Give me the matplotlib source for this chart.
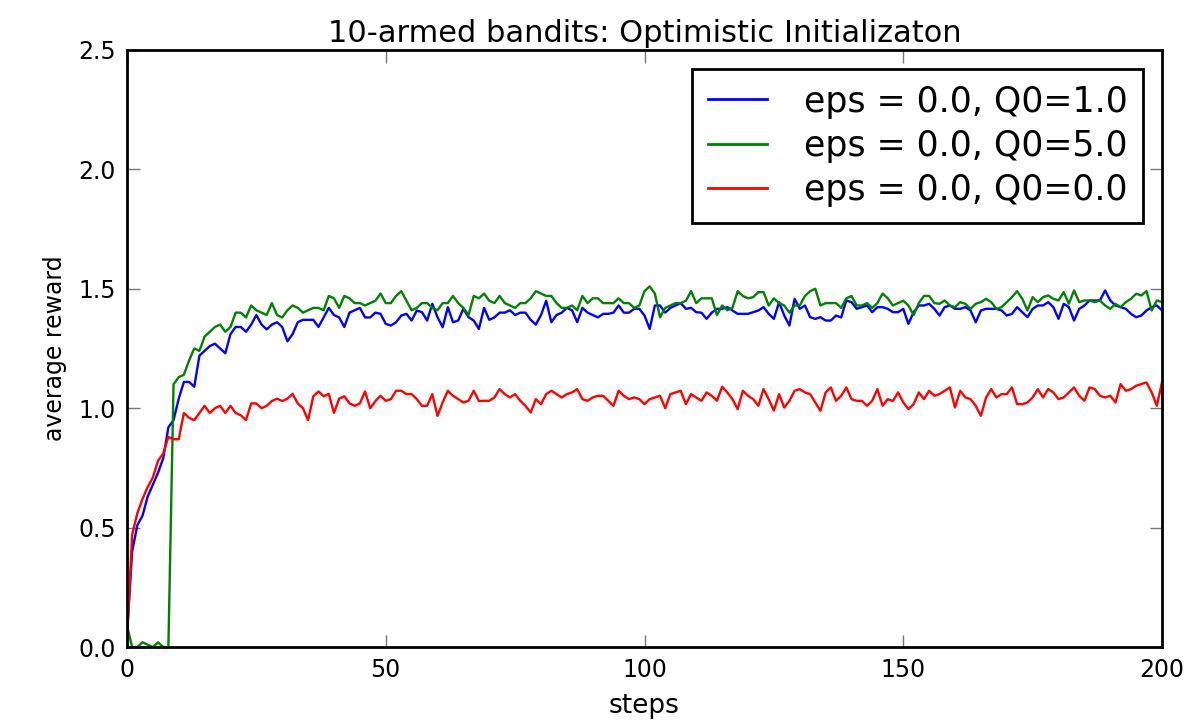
import matplotlib
matplotlib.use("Agg")
import matplotlib.pyplot as plt
import numpy as np

# average reward per step (steps 0..200)
steps = np.arange(201)

blue_q1 = [
    0.05, 0.40, 0.51, 0.55, 0.63, 0.68, 0.73, 0.79, 0.92, 0.95,
    1.04, 1.11, 1.11, 1.09, 1.22, 1.24, 1.26, 1.27, 1.25, 1.23,
    1.31, 1.34, 1.34, 1.32, 1.35, 1.39, 1.35, 1.33, 1.35, 1.36,
    1.34, 1.28, 1.31, 1.36, 1.37, 1.37, 1.37, 1.34, 1.38, 1.42,
    1.39, 1.38, 1.34, 1.40, 1.41, 1.42, 1.38, 1.38, 1.40, 1.395,
    1.353, 1.346, 1.36, 1.388, 1.395, 1.367, 1.409, 1.402, 1.367, 1.437,
    1.381, 1.339, 1.423, 1.36, 1.367, 1.416, 1.381, 1.367, 1.332, 1.42,
    1.37, 1.38, 1.40, 1.40, 1.41, 1.39, 1.40, 1.40, 1.37, 1.35,
    1.39, 1.45, 1.36, 1.39, 1.40, 1.42, 1.41, 1.36, 1.42, 1.40,
    1.39, 1.38, 1.395, 1.395, 1.40, 1.43, 1.40, 1.40, 1.416, 1.416,
    1.388, 1.332, 1.43, 1.43, 1.40, 1.42, 1.43, 1.44, 1.416, 1.42,
    1.402, 1.40, 1.374, 1.40, 1.416, 1.416, 1.423, 1.409, 1.395, 1.395,
    1.395, 1.402, 1.409, 1.423, 1.395, 1.374, 1.444, 1.388, 1.346, 1.458,
    1.416, 1.43, 1.381, 1.374, 1.381, 1.367, 1.367, 1.388, 1.38, 1.451,
    1.444, 1.416, 1.423, 1.43, 1.402, 1.423, 1.423, 1.416, 1.402, 1.402,
    1.416, 1.353, 1.402, 1.43, 1.43, 1.437, 1.416, 1.388, 1.423, 1.43,
    1.416, 1.416, 1.423, 1.409, 1.36, 1.409, 1.416, 1.416, 1.416, 1.409,
    1.388, 1.395, 1.423, 1.402, 1.381, 1.416, 1.43, 1.43, 1.444, 1.423,
    1.374, 1.437, 1.423, 1.367, 1.416, 1.43, 1.451, 1.451, 1.451, 1.493,
    1.451, 1.43, 1.423, 1.416, 1.395, 1.381, 1.388, 1.409, 1.423, 1.43,
    1.409,
]

green_q5 = [
    0.09, 0.0, 0.0, 0.02, 0.01, 0.0, 0.02, 0.0, 0.0, 1.10,
    1.13, 1.14, 1.20, 1.25, 1.24, 1.30, 1.32, 1.34, 1.35, 1.32,
    1.34, 1.40, 1.40, 1.38, 1.43, 1.41, 1.40, 1.39, 1.44, 1.39,
    1.38, 1.41, 1.43, 1.42, 1.40, 1.41, 1.42, 1.42, 1.41, 1.47,
    1.46, 1.42, 1.47, 1.46, 1.44, 1.44, 1.43, 1.44, 1.45, 1.48,
    1.44, 1.44, 1.47, 1.49, 1.45, 1.41, 1.42, 1.44, 1.44, 1.42,
    1.41, 1.44, 1.44, 1.47, 1.44, 1.42, 1.39, 1.47, 1.46, 1.48,
    1.45, 1.44, 1.47, 1.44, 1.43, 1.42, 1.44, 1.44, 1.46, 1.49,
    1.48, 1.47, 1.47, 1.44, 1.42, 1.42, 1.43, 1.41, 1.47, 1.44,
    1.46, 1.46, 1.44, 1.44, 1.44, 1.46, 1.44, 1.44, 1.42, 1.43,
    1.49, 1.51, 1.48, 1.38, 1.42, 1.43, 1.44, 1.44, 1.45, 1.49,
    1.44, 1.46, 1.46, 1.46, 1.39, 1.43, 1.41, 1.42, 1.49, 1.47,
    1.46, 1.465, 1.486, 1.486, 1.43, 1.46, 1.44, 1.43, 1.40, 1.43,
    1.43, 1.47, 1.49, 1.50, 1.43, 1.44, 1.44, 1.44, 1.42, 1.46,
    1.47, 1.43, 1.43, 1.44, 1.42, 1.44, 1.48, 1.46, 1.43, 1.44,
    1.45, 1.43, 1.39, 1.44, 1.47, 1.47, 1.44, 1.437, 1.451, 1.43,
    1.423, 1.444, 1.437, 1.416, 1.437, 1.444, 1.458, 1.444, 1.416, 1.423,
    1.444, 1.465, 1.49, 1.458, 1.409, 1.465, 1.444, 1.465, 1.472, 1.458,
    1.451, 1.486, 1.437, 1.493, 1.444, 1.451, 1.451, 1.444, 1.451, 1.43,
    1.416, 1.437, 1.423, 1.444, 1.458, 1.479, 1.472, 1.49, 1.409, 1.451,
    1.444,
]

red_q0 = [
    0.03, 0.47, 0.56, 0.62, 0.67, 0.71, 0.78, 0.81, 0.88, 0.87,
    0.87, 0.98, 0.96, 0.95, 0.98, 1.01, 0.98, 1.00, 1.01, 0.98,
    1.01, 0.98, 0.97, 0.95, 1.02, 1.02, 1.00, 1.01, 1.03, 1.04,
    1.03, 1.04, 1.06, 1.02, 1.00, 0.95, 1.05, 1.07, 1.05, 1.06,
    0.98, 1.04, 1.05, 1.02, 1.01, 1.02, 1.07, 1.00, 1.03, 1.052,
    1.031, 1.038, 1.073, 1.073, 1.059, 1.059, 1.038, 1.01, 1.01, 1.059,
    0.968, 1.024, 1.073, 1.052, 1.038, 1.024, 1.031, 1.073, 1.03, 1.031,
    1.031, 1.045, 1.08, 1.059, 1.045, 1.059, 1.031, 1.01, 0.982, 1.038,
    1.017, 1.059, 1.073, 1.059, 1.045, 1.059, 1.066, 1.08, 1.038, 1.031,
    1.045, 1.052, 1.052, 1.031, 1.01, 1.073, 1.052, 1.038, 1.045, 1.038,
    1.017, 1.038, 1.045, 1.052, 1.00, 1.059, 1.066, 1.073, 1.017, 1.059,
    1.045, 1.031, 1.066, 1.052, 1.031, 1.09, 1.066, 1.038, 0.996, 1.073,
    1.052, 1.038, 1.01, 1.08, 1.038, 0.99, 1.059, 1.003, 1.031, 1.073,
    1.08, 1.066, 1.059, 1.024, 0.989, 1.066, 1.087, 1.031, 1.052, 1.087,
    1.038, 1.031, 1.031, 1.01, 1.031, 1.08, 1.01, 1.038, 1.03, 1.066,
    1.024, 0.996, 1.017, 1.066, 1.038, 1.073, 1.052, 1.059, 1.073, 1.087,
    1.003, 1.073, 1.045, 1.038, 1.01, 0.968, 1.045, 1.08, 1.045, 1.059,
    1.059, 1.087, 1.017, 1.017, 1.024, 1.045, 1.08, 1.045, 1.08, 1.066,
    1.038, 1.045, 1.066, 1.087, 1.052, 1.031, 1.087, 1.08, 1.052, 1.045,
    1.052, 1.024, 1.101, 1.073, 1.08, 1.094, 1.101, 1.108, 1.066, 1.01,
    1.11,
]

labels = ["eps = 0.0, Q0=1.0", "eps = 0.0, Q0=5.0", "eps = 0.0, Q0=0.0"]

fig = plt.figure(figsize=(11.9, 7.23), dpi=100)
ax = fig.add_axes([0.1067, 0.105, 0.8698, 0.826])

ax.plot(steps, blue_q1, color="b", lw=1.7, label=labels[0])
ax.plot(steps, green_q5, color="g", lw=1.7, label=labels[1])
ax.plot(steps, red_q0, color="r", lw=1.7, label=labels[2])

ax.set_xlim(0, 200)
ax.set_ylim(0, 2.5)
ax.set_xticks([0, 50, 100, 150, 200])
ax.set_yticks([0.0, 0.5, 1.0, 1.5, 2.0, 2.5])
ax.set_yticklabels(["0.0", "0.5", "1.0", "1.5", "2.0", "2.5"])
ax.tick_params(direction="in", length=9, width=1, color="#777777",
               top=True, right=True, labelsize=17, pad=8)
for sp in ax.spines.values():
    sp.set_linewidth(2)

ax.set_title("10-armed bandits: Optimistic Initializaton", fontsize=22, pad=6)
ax.set_xlabel("steps", fontsize=19, labelpad=8)
ax.set_ylabel("average reward", fontsize=17, labelpad=8)

leg = ax.legend(loc="upper right", fontsize=25, frameon=True, fancybox=False,
                framealpha=1, handlelength=1.7, handletextpad=1.05,
                borderpad=0.45, labelspacing=0.3, borderaxespad=0.55)
leg.get_frame().set_edgecolor("black")
leg.get_frame().set_linewidth(2)
for line in leg.get_lines():
    line.set_linewidth(2)

fig.savefig("out.png", dpi=100)
